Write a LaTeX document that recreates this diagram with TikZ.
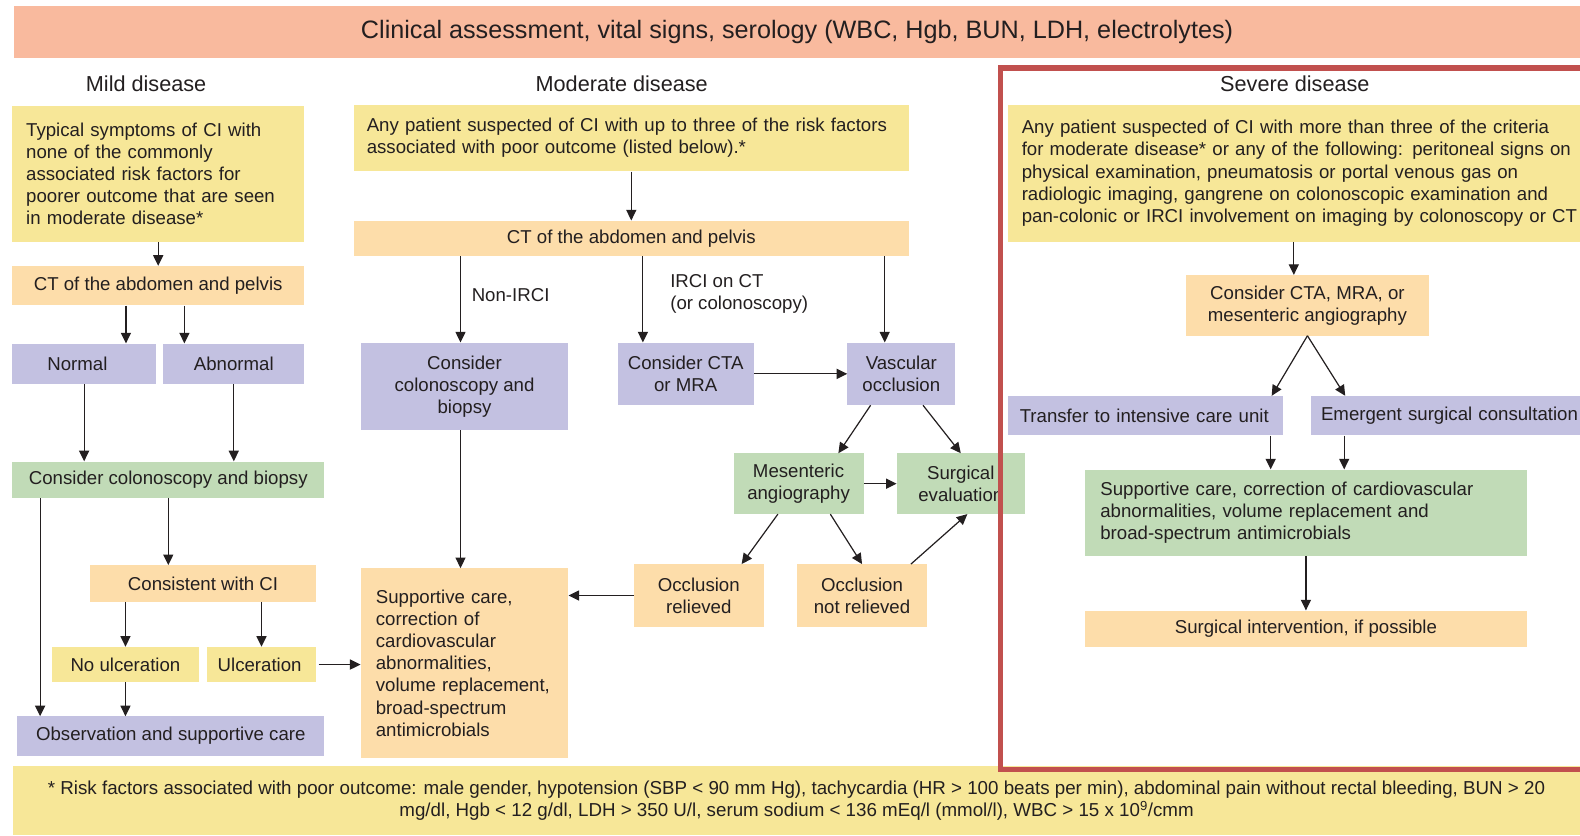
\documentclass[tikz,border=0pt]{standalone}
\usepackage{fontspec}
\setmainfont{Liberation Sans}
\usetikzlibrary{arrows.meta}
\definecolor{ink}{HTML}{231F20}
\definecolor{bannerpink}{HTML}{F9BA9E}
\definecolor{boxyellow}{HTML}{F7E798}
\definecolor{boxorange}{HTML}{FDDDAA}
\definecolor{boxlav}{HTML}{C3C1E1}
\definecolor{boxgreen}{HTML}{C1DBB7}
\definecolor{framered}{HTML}{C1504E}

\begin{document}
\begin{tikzpicture}[x=1pt,y=-1pt,
  arr/.style={-{Triangle[length=10.5pt,width=10pt]},line width=1.2pt,draw=ink},
  box/.style={inner sep=0pt,text=ink,font=\fontsize{18.5}{22}\selectfont,align=center},
  ylw/.style={box,fill=boxyellow},
  org/.style={box,fill=boxorange},
  lav/.style={box,fill=boxlav},
  grn/.style={box,fill=boxgreen},
  banner/.style={box,fill=bannerpink,font=\fontsize{25}{28}\selectfont},
  head/.style={text=ink,font=\fontsize{21.5}{26}\selectfont},
  lbl/.style={inner sep=0pt,text=ink,font=\fontsize{18.5}{22}\selectfont,align=left},
  sz/.style 2 args={minimum width=#1,minimum height=#2},
  lft/.style 2 args={align=left,inner xsep=#1,text width=#2},
  frame/.style={draw=framered,line width=5pt},
]
\useasboundingbox (0,0) rectangle (1568,829);
\clip (0,0) rectangle (1568,829);

\node[banner,sz={1555}{52}] (clin) at (791,32) {Clinical assessment, vital signs, serology (WBC, Hgb, BUN, LDH, electrolytes)};
\node[head] (hmild) at (145,83) {Mild disease};
\node[head] (hmod) at (617,83) {Moderate disease};
\node[head] (hsev) at (1285,83) {Severe disease};

% mild disease
\node[ylw,sz={290}{135},lft={14}{262}] (mtyp) at (157,172.5) {Typical symptoms of CI with\\none of the commonly\\associated risk factors for\\poorer outcome that are seen\\in moderate disease*};
\node[org,sz={290}{39}] (mct) at (157,283.5) {CT of the abdomen and pelvis};
\node[lav,sz={143}{40},lft={35}{73}] (mnorm) at (83.5,361) {Normal};
\node[lav,sz={140}{40}] (mabn) at (232,361) {Abnormal};
\node[grn,sz={310}{36}] (mcol) at (167,476) {Consider colonoscopy and biopsy};
\node[org,sz={225}{36}] (mcons) at (201.5,579) {Consistent with CI};
\node[ylw,sz={145}{35}] (mnoul) at (124.5,659.5) {No ulceration};
\node[ylw,sz={109}{35},lft={11}{87}] (mulc) at (259.5,659.5) {Ulceration};
\node[lav,sz={305}{39}] (mobs) at (169.5,730.5) {Observation and supportive care};

% moderate disease
\node[ylw,sz={551}{66},lft={13}{525}] (dany) at (626.5,137) {Any patient suspected of CI with up to three of the risk factors\\associated with poor outcome (listed below).*};
\node[org,sz={551}{35}] (dct) at (626.5,236.5) {CT of the abdomen and pelvis};
\node[lav,sz={206}{87}] (dcol) at (461,383.5) {Consider\\colonoscopy and\\biopsy};
\node[lav,sz={135}{62}] (dcta) at (680.5,371) {Consider CTA\\or MRA};
\node[lav,sz={107}{62}] (dvas) at (894.5,371) {Vascular\\occlusion};
\node[grn,sz={129}{60}] (dmes) at (792.5,480) {Mesenteric\\angiography};
\node[grn,sz={127}{60}] (dsurg) at (953.5,480) {Surgical\\evaluation};
\node[org,sz={129}{62}] (drel) at (693.5,591) {Occlusion\\relieved};
\node[org,sz={129}{62}] (dnot) at (855.5,591) {Occlusion\\not relieved};
\node[org,sz={206}{188},lft={15}{176}] (dsup) at (461,658) {Supportive care,\\correction of\\cardiovascular\\abnormalities,\\volume replacement,\\broad-spectrum\\antimicrobials};
\node[lbl,anchor=west] (lnon) at (468,293) {Non-IRCI};
\node[lbl,anchor=west] (lirci) at (665,292) {IRCI on CT\\(or colonoscopy)};

% severe disease
\node[ylw,sz={590}{136},lft={14}{562}] (sany) at (1295,172) {Any patient suspected of CI with more than three of the criteria\\for moderate disease* or any of the following: peritoneal signs on\\physical examination, pneumatosis or portal venous gas on\\radiologic imaging, gangrene on colonoscopic examination and\\pan-colonic or IRCI involvement on imaging by colonoscopy or CT};
\node[org,sz={241}{60}] (scons) at (1297.5,303) {Consider CTA, MRA, or\\mesenteric angiography};
\node[lav,sz={273}{39},lft={12}{249}] (sicu) at (1136.5,412.5) {Transfer to intensive care unit};
\node[lav,sz={289}{39},lft={10}{269}] (semer) at (1445.5,412.5) {Emergent surgical consultation};
\node[grn,sz={438}{86},lft={15}{408}] (ssup) at (1296,509) {Supportive care, correction of cardiovascular\\abnormalities, volume replacement and\\broad-spectrum antimicrobials};
\node[org,sz={438}{36}] (ssurg) at (1296,624) {Surgical intervention, if possible};

\node[ylw,sz={1555}{69},font=\fontsize{18.6}{22}\selectfont] (foot) at (790.5,794.5) {* Risk factors associated with poor outcome: male gender, hypotension (SBP < 90 mm Hg), tachycardia (HR > 100 beats per min), abdominal pain without rectal bleeding, BUN > 20\\mg/dl, Hgb < 12 g/dl, LDH > 350 U/l, serum sodium < 136 mEq/l (mmol/l), WBC > 15 x 10\textsuperscript{9}/cmm};

\draw[frame] (1600,67.5) -- (993,67.5) -- (993,764) -- (1600,764);

\draw[arr] (mtyp.south) -- (mct.north);
\coordinate (a1) at ([xshift=-32]mct.south);
\coordinate (a2) at ([xshift=26]mct.south);
\coordinate (a3) at ([xshift=28]mcol.south west);
\draw[arr] (a1) -- (a1 |- mnorm.north);
\draw[arr] (a2) -- (a2 |- mabn.north);
\draw[arr] (mnorm.south) -- (mnorm.south |- mcol.north);
\draw[arr] (mabn.south) -- (mabn.south |- mcol.north);
\draw[arr] (a3) -- (a3 |- mobs.north);
\draw[arr] (mcol.south) -- (mcol.south |- mcons.north);
\draw[arr] (mcons.south -| mnoul) -- (mnoul.north);
\draw[arr] (mcons.south -| mulc) -- (mulc.north);
\draw[arr] (mnoul.south) -- (mnoul.south |- mobs.north);
\draw[arr] ([xshift=2]mulc.east) -- (mulc.east -| dsup.west);

\draw[arr] (dany.south) -- (dany.south |- dct.north);
\coordinate (b1) at ([xshift=-4]dcol.north);
\coordinate (b2) at ([xshift=-42.5]dcta.north);
\coordinate (b3) at ([xshift=-16.5]dvas.north);
\draw[arr] (b1 |- dct.south) -- (b1);
\draw[arr] (b2 |- dct.south) -- (b2);
\draw[arr] (b3 |- dct.south) -- (b3);
\draw[arr] (dcta.east) -- (dvas.west);
\draw[arr] ([xshift=-30.5]dvas.south) -- ([xshift=39.5]dmes.north);
\draw[arr] ([xshift=21.5]dvas.south) -- (dsurg.north);
\draw[arr] (dmes.east) -- (dsurg.west);
\draw[arr] ([xshift=-20.5]dmes.south) -- ([xshift=42.5]drel.north);
\draw[arr] ([xshift=31.5]dmes.south) -- (dnot.north);
\draw[arr] ([xshift=48.5]dnot.north) -- ([xshift=6.5]dsurg.south);
\draw[arr] (drel.west) -- (drel.west -| dsup.east);
\draw[arr] ([xshift=-4]dcol.south) -- ([xshift=-4]dsup.north);

\coordinate (c1) at ([xshift=-11]sany.south);
\coordinate (c2) at ([xshift=124.5]sicu.south);
\coordinate (c3) at ([xshift=-111.5]semer.south);
\draw[arr] (c1) -- (c1 |- scons.north);
\draw[arr] (scons.south) -- ([xshift=125.5]sicu.north);
\draw[arr] (scons.south) -- ([xshift=-110.5]semer.north);
\draw[arr] (c2) -- (c2 |- ssup.north);
\draw[arr] (c3) -- (c3 |- ssup.north);
\draw[arr] (ssup.south) -- (ssurg.north);
\end{tikzpicture}
\end{document}
